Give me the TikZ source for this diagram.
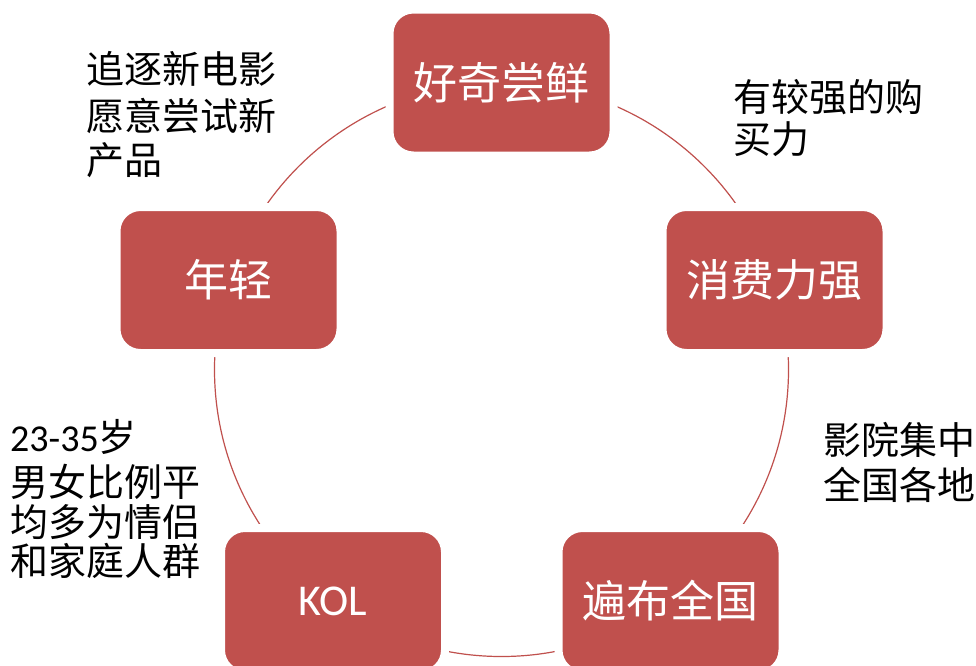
\documentclass[tikz,border=0pt]{standalone}
\usepackage{fontspec}
\setmainfont{Carlito}
\newfontfamily\cjk{Noto Sans CJK SC}
\definecolor{boxred}{HTML}{C0504D}
\begin{document}
\begin{tikzpicture}[x=1pt,y=-1pt,
  cyclebox/.style={rectangle, rounded corners=24pt, fill=boxred, draw=white,
    line width=8pt, minimum width=224pt, minimum height=146pt, inner sep=0pt,
    text=white, font=\fontsize{44}{50}\selectfont\cjk},
  latinbox/.style={cyclebox, font=\fontsize{44}{50}\selectfont},
  note/.style={anchor=west, inner sep=0pt, text=black,
    font=\fontsize{38}{44}\selectfont\cjk},
  ringstyle/.style={circle, draw=boxred, line width=1.2pt, minimum size=574pt, inner sep=0pt}]
\useasboundingbox (0,0) rectangle (976,665);
\fill[white] (0,0) rectangle (976,665);
\node[ringstyle] (ring) at (501.5,369.5) {};
\node[cyclebox] (top) at (501.5,82.5) {好奇尝鲜};
\node[cyclebox] (right) at (774.5,280) {消费力强};
\node[cyclebox] (bright) at (670.5,601) {遍布全国};
\node[latinbox] (bleft) at (333,601) {KOL};
\node[cyclebox] (left) at (228.5,280) {年轻};
% notes
\node[note] (tl1) at (86,69) {追逐新电影};
\node[note] (tl2) at (86,115.5) {愿意尝试新};
\node[note] (tl3) at (86,160) {产品};
\node[note] (tr1) at (733,97) {有较强的购};
\node[note] (tr2) at (733,139) {买力};
\node[note] (br1) at (823,440) {影院集中};
\node[note] (br2) at (823,485) {全国各地};
\node[note, font=\fontsize{38}{44}\selectfont] (bl1) at (10,437) {23-35{\cjk 岁}};
\node[note] (bl2) at (10,482) {男女比例平};
\node[note] (bl3) at (10,522) {均多为情侣};
\node[note] (bl4) at (10,561) {和家庭人群};
\end{tikzpicture}
\end{document}
